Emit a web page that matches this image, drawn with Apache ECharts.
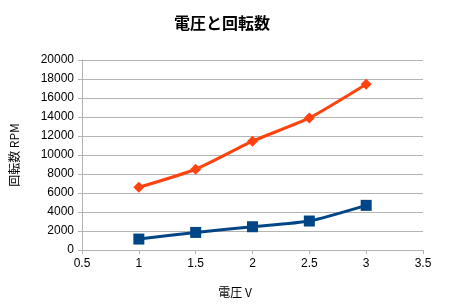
<!DOCTYPE html>
<html><head><meta charset="utf-8">
<script src="https://cdn.jsdelivr.net/npm/echarts@6/dist/echarts.min.js"></script>
<style>html,body{margin:0;padding:0;background:#fff}#c{width:450px;height:306px}</style>
</head><body><div id="c"></div>
<script>
const title = "電圧と回転数";
const xName = "電圧 V";
const yName = "回転数 RPM";
const voltage = [1, 1.5, 2, 2.5, 3];
const rpmRed = [6600, 8500, 11450, 13900, 17450];
const rpmBlue = [1150, 1850, 2450, 3050, 4700];
const xMin = 0.5, xMax = 3.5, xStep = 0.5;
const yMin = 0, yMax = 20000, yStep = 2000;

const font = "'Liberation Sans', Arial, 'Noto Sans CJK JP', sans-serif";
const chart = echarts.init(document.getElementById('c'));
chart.setOption({
  animation: false,
  title: { text: title, left: 217, top: 10, textAlign: 'center',
    textStyle: { fontFamily: "'Noto Sans CJK JP', sans-serif", fontSize: 16, fontWeight: 'bold', color: '#000' } },
  grid: { left: 80, right: 27, top: 60, bottom: 56, containLabel: false },
  xAxis: {
    type: 'value', min: xMin, max: xMax, interval: xStep,
    name: xName, nameLocation: 'middle', nameGap: 36,
    nameTextStyle: { fontFamily: "'Noto Sans CJK JP', sans-serif", fontSize: 12, color: '#000', padding: [0, 35, 0, 0] },
    axisLine: { lineStyle: { color: '#b3b3b3' } },
    axisTick: { show: true, length: 4, lineStyle: { color: '#b3b3b3' } },
    axisLabel: { color: '#000', fontSize: 12, fontFamily: font, margin: 8, formatter: v => String(v) },
    splitLine: { show: false }
  },
  yAxis: {
    type: 'value', min: yMin, max: yMax, interval: yStep,
    name: yName, nameLocation: 'middle', nameGap: 62, nameRotate: 90,
    nameTextStyle: { fontFamily: "'Noto Sans CJK JP', sans-serif", fontSize: 12, color: '#000' },
    axisLine: { show: true, lineStyle: { color: '#b3b3b3' } },
    axisTick: { show: true, length: 4, lineStyle: { color: '#b3b3b3' } },
    axisLabel: { color: '#000', fontSize: 12, fontFamily: font, margin: 8, formatter: v => String(v) },
    splitLine: { show: true, lineStyle: { color: '#b3b3b3', width: 1 } }
  },
  series: [
    { type: 'line', data: voltage.map((v, i) => [v, rpmRed[i]]), smooth: 0.2,
      symbol: 'diamond', symbolSize: 11,
      lineStyle: { color: '#ff420e', width: 3 }, itemStyle: { color: '#ff420e' } },
    { type: 'line', data: voltage.map((v, i) => [v, rpmBlue[i]]), smooth: 0.2,
      symbol: 'rect', symbolSize: 11,
      lineStyle: { color: '#004586', width: 3 }, itemStyle: { color: '#004586' } }
  ]
});
</script></body></html>
